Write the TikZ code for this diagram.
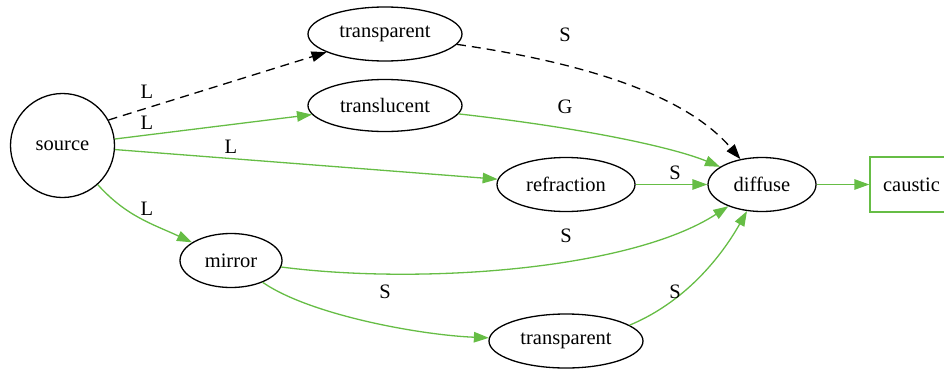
\documentclass[tikz,border=0pt]{standalone}
\usepackage{fontspec}
\setmainfont{Liberation Serif}
\usepackage{xcolor}
\usepackage{tikz}
\usetikzlibrary{calc}
\usetikzlibrary{positioning}
\usetikzlibrary{shapes.geometric}
\usetikzlibrary{arrows.meta}
\definecolor{edgegreen}{RGB}{102,189,69}

\begin{document}
\begin{tikzpicture}[x=1pt, y=-1pt,
    every node/.style={font=\fontsize{20.5}{24}\selectfont, inner sep=0pt},
    oval/.style={draw, ellipse, line width=1.3pt, minimum width=154pt, minimum height=54pt},
    lnk/.style={draw=edgegreen, line width=1.3pt,
        -{Triangle[length=15pt, width=10.5pt]}},
    shadow/.style={line width=1.3pt, dash pattern=on 9pt off 6pt,
        -{Triangle[length=15pt, width=10.5pt]}}]

    \useasboundingbox (0,0) rectangle (944,372);

    % the light and the surfaces it meets
    \node (src) [draw, circle, line width=1.3pt, minimum size=104pt] at (62.5,145.5) {source};
    \node (tra) [oval] at (385,34) {transparent};
    \node (tlu) [oval, minimum height=52pt] at (385,105.5) {translucent};
    \node (ref) [oval, minimum width=138pt] at (566,184.5) {refraction};
    \node (mir) [oval, minimum width=102pt] at (231,260.5) {mirror};
    \node (trb) [oval] at (566,341) {transparent};
    \node (dif) [oval, minimum width=108pt] at (762,184.5) {diffuse};
    \node (cau) [draw=edgegreen, line width=1.3pt, rectangle,
        minimum width=83pt, minimum height=55pt] at (911.5,184.5) {caustic};

    % paths
    \draw[shadow] (src.29) -- (tra);
    \draw[lnk] (src) -- (tlu);
    \draw[lnk] (src) -- (ref);
    \draw[lnk] (src) to[out=-48, in=155] (mir);
    \draw[shadow] (tra) .. controls (600,65) and (690,100) .. (dif);
    \draw[lnk] (tlu) .. controls (600,130) and (680,150) .. (dif);
    \draw[lnk] (ref) -- (dif);
    \draw[lnk] (mir) .. controls (420,285) and (630,270) .. (dif);
    \draw[lnk] (mir) .. controls (310,315) and (420,335) .. (trb);
    \draw[lnk] (trb.14) .. controls (690,300) and (725,250) .. (dif);
    \draw[lnk] (dif) -- (cau);

    % edge labels
    \node (l1) at (147,92) {L};
    \node (l2) at (147,123) {L};
    \node (l3) at (231,147) {L};
    \node (l4) at (147,209) {L};
    \node (s1) at (565,35) {S};
    \node (g1) at (565,106.5) {G};
    \node (s2) at (675,172.5) {S};
    \node (s3) at (566,236) {S};
    \node (s4) at (385,292) {S};
    \node (s5) at (675,292) {S};

\end{tikzpicture}
\end{document}
